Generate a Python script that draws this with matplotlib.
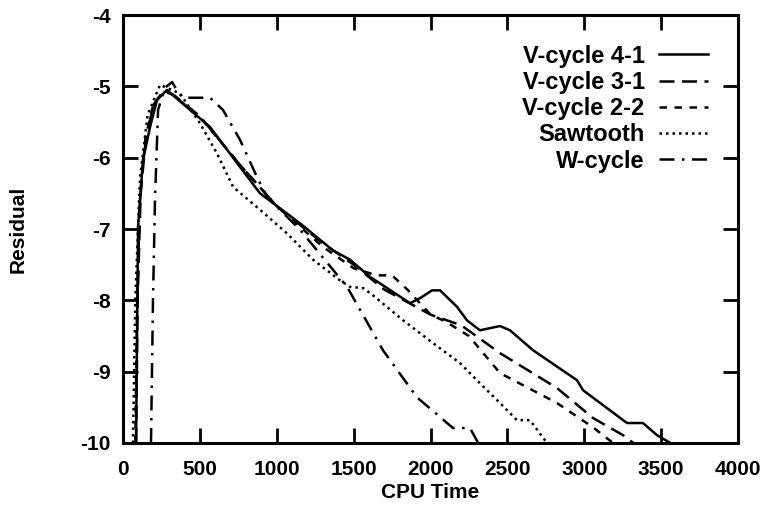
import matplotlib
matplotlib.use("Agg")
import matplotlib.pyplot as plt

# values
v41_t = [85, 98, 130, 176, 221, 286, 338, 501, 566, 761, 891, 1151, 1366, 1476, 1606, 1867,
         1932, 2010, 2062, 2172, 2237, 2322, 2452, 2517, 2667, 2953, 2992, 3278, 3382, 3473, 3560]
v41_r = [-10, -6.97, -6.03, -5.57, -5.19, -5.05, -5.15, -5.45, -5.57, -6.13, -6.5, -6.92, -7.3, -7.43,
         -7.67, -8.04, -7.97, -7.86, -7.86, -8.09, -8.28, -8.42, -8.36, -8.42, -8.7, -9.12, -9.26,
         -9.72, -9.72, -9.89, -10]

v31_t = [85, 95, 115, 150, 200, 270, 330, 500, 760, 1000, 1300, 1500, 1700, 2000, 2200, 2452,
         2823, 3057, 3252, 3320]
v31_r = [-10, -8.0, -6.5, -5.7, -5.25, -5.07, -5.12, -5.42, -6.1, -6.68, -7.2, -7.5, -7.85, -8.2,
         -8.35, -8.74, -9.23, -9.65, -9.89, -10]

v22_t = [80, 92, 112, 148, 198, 265, 325, 500, 760, 1000, 1300, 1500, 1650, 1750, 1850, 2000,
         2100, 2250, 2452, 2823, 3057, 3187]
v22_r = [-10, -8.0, -6.5, -5.7, -5.25, -5.06, -5.12, -5.43, -6.1, -6.68, -7.25, -7.55, -7.65,
         -7.65, -7.85, -8.2, -8.3, -8.5, -9.02, -9.44, -9.78, -10]

saw_t = [65, 80, 110, 160, 241, 371, 501, 611, 716, 891, 1066, 1236, 1411, 1476, 1563, 1626,
         1822, 2017, 2192, 2302, 2452, 2562, 2647, 2758]
saw_r = [-10, -8.0, -6.3, -5.4, -4.98, -5.1, -5.52, -5.94, -6.41, -6.73, -7.06, -7.43, -7.72,
         -7.81, -7.83, -7.93, -8.28, -8.6, -8.88, -9.12, -9.44, -9.68, -9.68, -10]

wc_t = [182, 195, 208, 228, 273, 319, 358, 390, 566, 650, 761, 871, 937, 1151, 1457, 1691,
        1912, 2146, 2257, 2310]
wc_r = [-10, -8.0, -6.6, -5.33, -5.02, -4.94, -5.08, -5.16, -5.16, -5.33, -5.75, -6.27, -6.55,
        -7.01, -7.81, -8.7, -9.36, -9.79, -9.79, -10]

plt.rcParams['font.family'] = ['Liberation Sans', 'DejaVu Sans']
plt.rcParams['font.size'] = 15
plt.rcParams['font.weight'] = 'bold'
plt.rcParams['axes.labelweight'] = 'bold'
plt.rcParams['axes.unicode_minus'] = False

fig = plt.figure(figsize=(7.75, 5.12), dpi=100)
ax = fig.add_axes([123 / 775, 1 - 443 / 512, (738 - 123) / 775, (443 - 15) / 512])

lw = 1.8
ax.plot(v41_t, v41_r, color='black', lw=lw, label='V-cycle 4-1')
ax.plot(v31_t, v31_r, color='black', lw=lw, dashes=(6, 3), label='V-cycle 3-1')
ax.plot(v22_t, v22_r, color='black', lw=lw, dashes=(3, 3), label='V-cycle 2-2')
ax.plot(saw_t, saw_r, color='black', lw=lw, dashes=(1, 1.6), label='Sawtooth')
ax.plot(wc_t, wc_r, color='black', lw=lw, dashes=(6, 3, 1, 3), label='W-cycle')

ax.set_xlim(0, 4000)
ax.set_ylim(-10, -4)
ax.set_xticks(range(0, 4001, 500))
ax.set_yticks(range(-10, -3))
ax.tick_params(direction='in', length=11, width=2, top=True, right=True)
ax.tick_params(axis='x', pad=12)
ax.tick_params(axis='y', pad=9)
for s in ax.spines.values():
    s.set_linewidth(2.2)

ax.set_xlabel('CPU Time', labelpad=3)
ax.set_ylabel('Residual', labelpad=38)

ax.legend(loc='upper right', frameon=False, markerfirst=False, fontsize=17,
          handlelength=2.1, labelspacing=0.14, borderaxespad=0.85, handletextpad=0.6)

fig.savefig('out.png', dpi=100)
